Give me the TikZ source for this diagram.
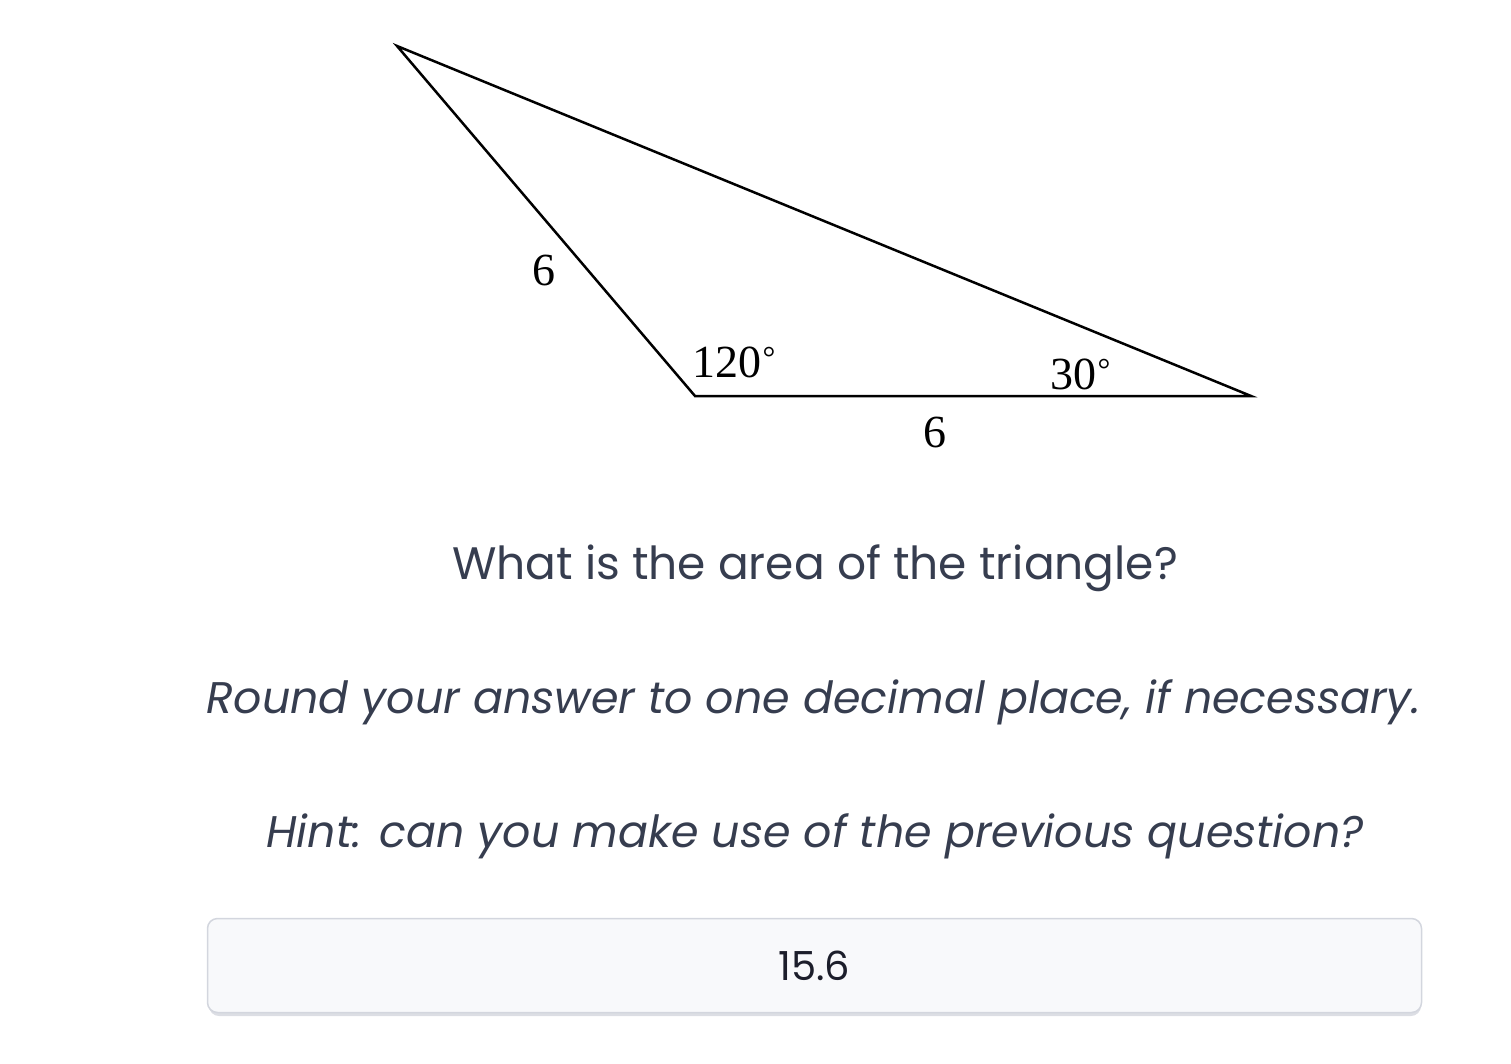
\documentclass[tikz,border=0pt]{standalone}
\usepackage{fontspec}
\setmainfont{Liberation Serif}
\newfontfamily\qfont{Poppins}
\definecolor{qtext}{HTML}{363D4F}
\definecolor{boxfill}{HTML}{F8F9FB}
\definecolor{boxline}{HTML}{D3D6DE}
\definecolor{boxshadow}{HTML}{DCDEE4}
\definecolor{anstext}{HTML}{1C1E2B}
\newcommand{\degsym}{\hspace{1.5pt}\raisebox{8.5pt}{\fontsize{32}{32}\selectfont °}}
\begin{document}
\begin{tikzpicture}[x=1pt,y=-1pt,
  lbl/.style={font=\fontsize{46}{50}\selectfont, inner sep=0pt},
  qline/.style={font=\qfont\fontsize{45.5}{50}\selectfont, text=qtext, inner sep=0pt},
  qital/.style={font=\qfont\itshape\fontsize{44.3}{50}\selectfont, text=qtext, inner sep=0pt},
  answerbox/.style={draw=boxline, line width=1.5pt, fill=boxfill, rounded corners=10pt, minimum width=1214pt, minimum height=94pt, inner sep=0pt}
]
\useasboundingbox (0,0) rectangle (1511,1064);
\coordinate (A) at (397,46);
\coordinate (B) at (695,396);
\coordinate (C) at (1251,396);
\draw[line width=2.5pt, line join=miter] (A) -- (B) -- (C) -- cycle;
\node[lbl] (s1) at (544,270) {6};
\node[lbl] (s2) at (935,432) {6};
\node[lbl, anchor=base west] (a1) at (692,377) {120\degsym};
\node[lbl, anchor=base west] (a2) at (1050,389) {30\degsym};
\node[qline] (q1) at (815,568) {What is the area of the triangle?};
\node[qital] (q2) at (814,702) {Round your answer to one decimal place, if necessary.};
\node[qital] (q3) at (815,836) {Hint: can you make use of the previous question?};
\fill[boxshadow, rounded corners=10pt] (209,924) rectangle (1421,1016);
\node[answerbox] (ans) at (814.5,965.5) {};
\node[font=\qfont\fontsize{40}{44}\selectfont, text=anstext, inner sep=0pt] (val) at (ans.center) {15.6};
\end{tikzpicture}
\end{document}
